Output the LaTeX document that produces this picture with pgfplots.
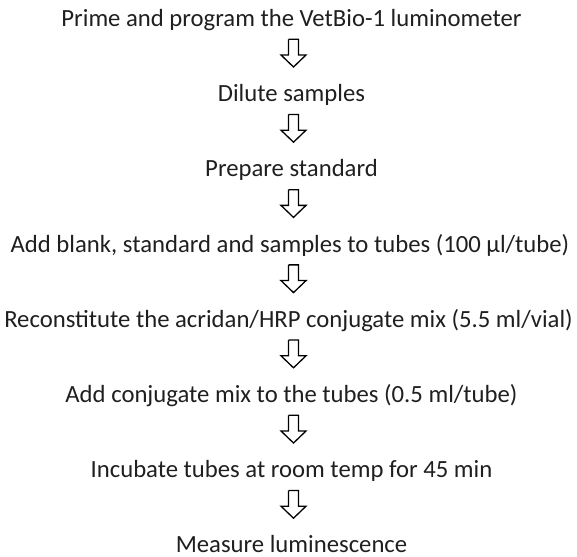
\documentclass[border=0pt]{standalone}
\usepackage{fontspec}
\setmainfont{Carlito}
\usepackage{pgfplots}
\pgfplotsset{compat=1.18}

\begin{document}
\begin{tikzpicture}
\begin{axis}[
    width=577pt, height=556pt, scale only axis,
    xmin=0, xmax=577, ymin=0, ymax=556,
    hide axis, clip=false,
]
% step labels, baseline positions
\addplot[only marks, mark=none,
    point meta=explicit symbolic,
    nodes near coords,
    nodes near coords align=center,
    every node near coord/.append style={anchor=base, inner sep=0pt,
        font=\fontsize{24.7}{29}\selectfont, text=black!88},
] coordinates {
    (291.5,529.5) [{Prime and program the VetBio-1 luminometer}]
    (291.5,454.3) [{Dilute samples}]
    (291.5,379.1) [{Prepare standard}]
    (290,303.9) [{Add blank, standard and samples to tubes (100 µl/tube)}]
    (288.5,228.7) [{Reconstitute the acridan/HRP conjugate mix (5.5 ml/vial)}]
    (291.5,153.5) [{Add conjugate mix to the tubes (0.5 ml/tube)}]
    (291.5,78.3)  [{Incubate tubes at room temp for 45 min}]
    (291.5,3.6)   [{Measure luminescence}]
};
% hollow down arrows
\pgfplotsset{arrowshape/.style={draw=black, line width=1.3pt, fill=white, mark=none, line join=miter}}
\addplot[arrowshape] coordinates {(288.5,516.7) (298.5,516.7) (298.5,501.0) (306,501.0) (293.5,489.0) (281,501.0) (288.5,501.0) (288.5,516.7)};
\addplot[arrowshape] coordinates {(288.5,441.5) (298.5,441.5) (298.5,425.8) (306,425.8) (293.5,413.8) (281,425.8) (288.5,425.8) (288.5,441.5)};
\addplot[arrowshape] coordinates {(288.5,366.3) (298.5,366.3) (298.5,350.6) (306,350.6) (293.5,338.6) (281,350.6) (288.5,350.6) (288.5,366.3)};
\addplot[arrowshape] coordinates {(288.5,291.1) (298.5,291.1) (298.5,275.4) (306,275.4) (293.5,263.4) (281,275.4) (288.5,275.4) (288.5,291.1)};
\addplot[arrowshape] coordinates {(288.5,215.9) (298.5,215.9) (298.5,200.2) (306,200.2) (293.5,188.2) (281,200.2) (288.5,200.2) (288.5,215.9)};
\addplot[arrowshape] coordinates {(288.5,140.7) (298.5,140.7) (298.5,125.0) (306,125.0) (293.5,113.0) (281,125.0) (288.5,125.0) (288.5,140.7)};
\addplot[arrowshape] coordinates {(288.5,65.5) (298.5,65.5) (298.5,49.8) (306,49.8) (293.5,37.8) (281,49.8) (288.5,49.8) (288.5,65.5)};
\end{axis}
\pgfresetboundingbox
\path[use as bounding box] (0,0) rectangle (577pt,556pt);
\end{tikzpicture}
\end{document}
